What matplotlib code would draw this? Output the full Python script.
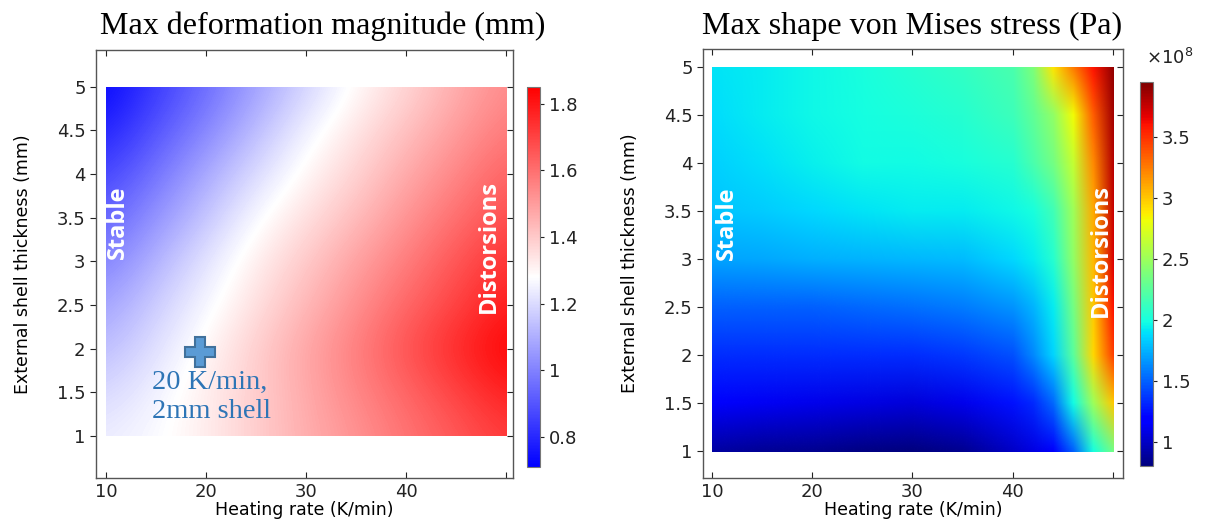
import numpy as np
import matplotlib
matplotlib.use("Agg")
from matplotlib import pyplot as plt
from matplotlib.image import NonUniformImage
from matplotlib.colors import Normalize
from matplotlib.patches import Rectangle
from matplotlib.ticker import FormatStrFormatter, FuncFormatter

# heating rate (K/min) and shell thickness (mm) grid of the left map
rate_def = [10, 15, 20, 25, 30, 35, 40, 45, 50]
thick = [1, 1.5, 2, 2.5, 3, 3.5, 4, 4.5, 5]

# max deformation magnitude (mm), rows = thickness, cols = heating rate
deform = [
    [1.24, 1.27, 1.32, 1.39, 1.46, 1.52, 1.59, 1.65, 1.72],
    [1.19, 1.25, 1.32, 1.39, 1.47, 1.55, 1.62, 1.70, 1.78],
    [1.13, 1.21, 1.30, 1.39, 1.48, 1.57, 1.67, 1.76, 1.85],
    [1.07, 1.17, 1.26, 1.35, 1.44, 1.53, 1.62, 1.70, 1.79],
    [1.00, 1.11, 1.22, 1.32, 1.40, 1.49, 1.57, 1.66, 1.74],
    [0.93, 1.04, 1.15, 1.27, 1.35, 1.43, 1.52, 1.60, 1.68],
    [0.86, 0.97, 1.09, 1.20, 1.30, 1.38, 1.47, 1.55, 1.63],
    [0.78, 0.90, 1.01, 1.13, 1.25, 1.34, 1.42, 1.50, 1.58],
    [0.72, 0.84, 0.95, 1.07, 1.18, 1.29, 1.37, 1.46, 1.54],
]

# right map: finer columns near the distortion edge
rate_vm = [10, 15, 20, 25, 30, 35, 40, 42, 44, 46, 48, 50]

# max von Mises stress (x1e8 Pa)
stress = [
    [0.90, 0.87, 0.85, 0.82, 0.80, 0.85, 1.00, 1.08, 1.15, 1.50, 2.00, 2.35],
    [1.15, 1.12, 1.10, 1.08, 1.05, 1.10, 1.25, 1.32, 1.52, 1.98, 2.50, 3.00],
    [1.33, 1.33, 1.33, 1.33, 1.33, 1.37, 1.45, 1.62, 1.85, 2.25, 2.95, 3.45],
    [1.50, 1.50, 1.50, 1.52, 1.55, 1.58, 1.65, 1.75, 1.93, 2.35, 3.00, 3.60],
    [1.70, 1.72, 1.74, 1.75, 1.76, 1.78, 1.87, 1.93, 2.05, 2.45, 3.05, 3.70],
    [1.80, 1.83, 1.87, 1.90, 1.92, 1.93, 1.96, 2.00, 2.15, 2.50, 3.10, 3.75],
    [1.84, 1.89, 1.94, 1.97, 1.98, 2.00, 2.05, 2.18, 2.35, 2.65, 3.20, 3.80],
    [1.88, 1.92, 1.96, 1.99, 2.01, 2.05, 2.13, 2.27, 2.45, 2.82, 3.35, 3.85],
    [1.90, 1.93, 1.96, 2.00, 2.05, 2.10, 2.18, 2.38, 2.90, 3.25, 3.60, 3.90],
]

x_ticks = [10, 20, 30, 40, 50]
x_labels = ["10", "20", "30", "40", ""]
y_ticks = thick

fig = plt.figure(figsize=(12.05, 5.23), dpi=100)
ax1 = fig.add_axes([0.0797, 0.0860, 0.3461, 0.8184])
cax1 = fig.add_axes([0.4373, 0.1071, 0.0108, 0.7266])
ax2 = fig.add_axes([0.5834, 0.0860, 0.3485, 0.8203])
cax2 = fig.add_axes([0.9461, 0.1090, 0.0108, 0.7342])

# left map on its regular grid, bicubic shading
dx = (rate_def[1] - rate_def[0]) / 2
dy = (thick[1] - thick[0]) / 2
m1 = ax1.imshow(np.array(deform), origin="lower", cmap="bwr", vmin=0.71,
                vmax=1.85, interpolation="bicubic", aspect="auto",
                extent=(rate_def[0] - dx, rate_def[-1] + dx,
                        thick[0] - dy, thick[-1] + dy))
m1.set_clip_path(Rectangle((rate_def[0], thick[0]), rate_def[-1] - rate_def[0],
                           thick[-1] - thick[0], transform=ax1.transData))

# right map on the uneven grid
m2 = NonUniformImage(ax2, interpolation="bilinear", cmap="jet",
                     norm=Normalize(0.8e8, 3.95e8),
                     extent=(rate_vm[0], rate_vm[-1], thick[0], thick[-1]))
m2.set_data(np.array(rate_vm, float), np.array(thick, float),
            np.array(stress) * 1e8)
ax2.add_image(m2)
m2.set_clip_path(Rectangle((rate_vm[0], thick[0]), rate_vm[-1] - rate_vm[0],
                           thick[-1] - thick[0], transform=ax2.transData))

ax1.set_xlim(9.0, 50.7)
ax1.set_ylim(0.52, 5.42)
ax2.set_xlim(9.1, 51.0)
ax2.set_ylim(0.72, 5.19)

for ax in (ax1, ax2):
    ax.set_xticks(x_ticks)
    ax.set_xticklabels(x_labels)
    ax.set_yticks(y_ticks)
    ax.yaxis.set_major_formatter(FormatStrFormatter("%g"))
    ax.tick_params(axis="both", labelsize=13, colors="#222222", length=4)
    ax.tick_params(axis="x", direction="in", top=True)
    ax.tick_params(axis="y", direction="out", right=True)
    for s in ax.spines.values():
        s.set_color("#555555")
        s.set_linewidth(1.0)
    ax.set_xlabel("Heating rate (K/min)", fontsize=12.5, labelpad=0)
    ax.set_ylabel("External shell thickness (mm)", fontsize=12.5, labelpad=18)

# right-side ticks point inward
for ax in (ax1, ax2):
    for t in ax.yaxis.get_ticklines()[1::2]:
        t.set_marker(0)

cb1 = fig.colorbar(m1, cax=cax1, ticks=[0.8, 1, 1.2, 1.4, 1.6, 1.8])
cb1.ax.yaxis.set_major_formatter(FormatStrFormatter("%g"))
cb2 = fig.colorbar(m2, cax=cax2, ticks=[1e8, 1.5e8, 2e8, 2.5e8, 3e8, 3.5e8])
cb2.ax.yaxis.set_major_formatter(FuncFormatter(lambda v, p: "%g" % (v / 1e8)))
for cb in (cb1, cb2):
    cb.ax.tick_params(labelsize=13, length=3, colors="#222222")
    cb.outline.set_edgecolor("#777777")
    cb.outline.set_linewidth(0.8)
fig.text(0.951, 0.878, r"$\times10^8$", fontsize=13, color="#222222")

# panel titles
serif = ["Liberation Serif", "DejaVu Serif"]
fig.text(0.268, 0.950, "Max deformation magnitude (mm)", family=serif,
         fontsize=23, ha="center", va="center")
fig.text(0.757, 0.950, "Max shape von Mises stress (Pa)", family=serif,
         fontsize=23, ha="center", va="center")

# region labels
lab = dict(color="white", fontsize=17, fontweight="bold", rotation=90,
           ha="center", va="center", family=["Open Sans", "DejaVu Sans"])
ax1.text(11.2, 3.45, "Stable", **lab)
ax1.text(48.3, 3.17, "Distorsions", **lab)
ax2.text(11.5, 3.37, "Stable", **lab)
ax2.text(48.8, 3.09, "Distorsions", **lab)

# chosen design point
ax1.plot([19.4], [1.96], marker="P", markersize=22, color="#5B9BD5",
         markeredgecolor="#41719C", markeredgewidth=1.5)
ax1.text(14.6, 1.76, "20 K/min,\n2mm shell", family=serif, fontsize=20.5,
         color="#2E75B6", ha="left", va="top", linespacing=1.2)

fig.savefig("out.png", dpi=100)
